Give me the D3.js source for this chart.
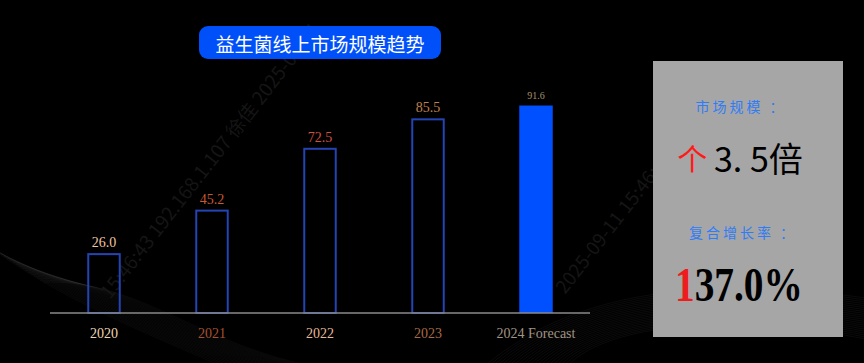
<!DOCTYPE html>
<html><head><meta charset="utf-8">
<script src="https://cdn.jsdelivr.net/npm/d3@7"></script>
<style>html,body{margin:0;padding:0;background:#000;overflow:hidden}svg{display:block}</style>
</head><body>
<svg id="c" width="864" height="363"></svg>
<script>
const categories = ["2020", "2021", "2022", "2023", "2024 Forecast"];
const values = [26.0, 45.2, 72.5, 85.5, 91.6];
const labelColors = ["#f2c4a0", "#c45a32", "#d25040", "#c0804e", "#a8906e"];
const tickColors = ["#f2d4b4", "#a55030", "#e6b898", "#a86a44", "#a09484"];
const title = "益生菌线上市场规模趋势";
const kpiLabel1 = "市场规模 ：";
const kpiValue1 = "3. 5倍";
const kpiLabel2 = "复合增长率 ：";
const kpiValue2 = "137.0%";

const svg = d3.select("#c");
svg.append("rect").attr("width", 864).attr("height", 363).attr("fill", "#000");

// decorative faint swirls
const deco = svg.append("g").attr("fill", "none").attr("stroke", "#fff");
for (let i = 0; i < 22; i++) {
  deco.append("path")
    .attr("d", `M${-20 + i * 3},${240 + i * 2} C${60 + i * 4},${300 - i} ${140 + i * 3},${330 + i} ${230 + i * 5},${370}`)
    .attr("stroke-opacity", 0.035);
  deco.append("path")
    .attr("d", `M${480 + i * 4},${370} C${560 + i * 2},${300 + i} ${680 + i * 3},${270 + i * 2} ${880},${300 + i * 2}`)
    .attr("stroke-opacity", 0.045);
}

// faint watermark
const wm = svg.append("g").attr("fill", "#151515").attr("font-family", "Noto Sans CJK SC, sans-serif").attr("font-size", 19);
wm.append("text").attr("transform", "translate(110,300) rotate(-52)").text("15:46:43  192.168.1.107  徐佳  2025-09-11");
wm.append("text").attr("transform", "translate(565,295) rotate(-52)").text("2025-09-11  15:46:43");

// title
svg.append("rect").attr("x", 199).attr("y", 26).attr("width", 242).attr("height", 33).attr("rx", 9)
  .attr("fill", "#0050fa");
svg.append("text").attr("x", 320).attr("y", 43).attr("text-anchor", "middle").attr("dominant-baseline", "central")
  .attr("fill", "#fff").attr("font-family", "Noto Sans CJK SC, sans-serif").attr("font-size", 19).text(title);

// chart
const x = d3.scaleBand().domain(categories).range([50, 590]).paddingInner(0.69).paddingOuter(0.345);
const y = d3.scaleLinear().domain([0, 100]).range([313, 86.5]);

const g = svg.append("g");
g.selectAll("rect.bar").data(values).join("rect")
  .attr("class", "bar")
  .attr("x", (d, i) => x(categories[i]) + (i < 4 ? 1 : 0))
  .attr("y", d => y(d))
  .attr("width", (d, i) => x.bandwidth() - (i < 4 ? 2 : 0))
  .attr("height", d => 313 - y(d))
  .attr("fill", (d, i) => i === 4 ? "#0050ff" : "none")
  .attr("stroke", (d, i) => i === 4 ? "none" : "#2444b4")
  .attr("stroke-width", 2);

g.selectAll("text.val").data(values).join("text")
  .attr("class", "val")
  .attr("x", (d, i) => x(categories[i]) + x.bandwidth() / 2)
  .attr("y", d => y(d) - 7)
  .attr("text-anchor", "middle")
  .attr("font-family", "Liberation Serif, serif")
  .attr("font-size", (d, i) => i === 4 ? 10 : 14)
  .attr("fill", (d, i) => labelColors[i])
  .text(d => d.toFixed(1));

const axis = d3.axisBottom(x).tickSize(0).tickPadding(15);
const ax = svg.append("g").attr("transform", "translate(0,313)").call(axis);
ax.select(".domain").attr("stroke", "#8a8a8a").attr("stroke-width", 1.5).attr("d", "M50,0H590");
ax.selectAll(".tick text")
  .attr("font-family", "Liberation Serif, serif").attr("font-size", 14)
  .attr("fill", (d, i) => tickColors[i]);

// KPI panel
svg.append("rect").attr("x", 653).attr("y", 61).attr("width", 190).attr("height", 276).attr("fill", "#a6a6a6");
const kf = "Noto Sans CJK SC, sans-serif";
svg.append("text").attr("x", 741).attr("y", 106).attr("text-anchor", "middle").attr("dominant-baseline", "central")
  .attr("font-family", kf).attr("font-size", 14).attr("letter-spacing", 3).attr("fill", "#2f7cf6").text(kpiLabel1);
const t1 = svg.append("text").attr("x", 740).attr("y", 157).attr("text-anchor", "middle").attr("dominant-baseline", "central")
  .attr("font-family", kf).attr("font-size", 34);
t1.append("tspan").attr("fill", "#ff1a1a").attr("font-size", 30).text("个 ");
t1.append("tspan").attr("fill", "#000").text(kpiValue1);

svg.append("text").attr("x", 743).attr("y", 232).attr("text-anchor", "middle").attr("dominant-baseline", "central")
  .attr("font-family", kf).attr("font-size", 14).attr("letter-spacing", 3).attr("fill", "#2f7cf6").text(kpiLabel2);
const kg = svg.append("g").attr("transform", "translate(675,301) scale(0.82,1)")
  .attr("font-family", "Liberation Serif, serif").attr("font-size", 48).attr("font-weight", "bold");
kg.append("text").attr("x", 0).attr("fill", "#ee1c1c").text(kpiValue2.slice(0, 1));
kg.append("text").attr("x", 24).attr("fill", "#000").text(kpiValue2.slice(1));
</script>
</body></html>
